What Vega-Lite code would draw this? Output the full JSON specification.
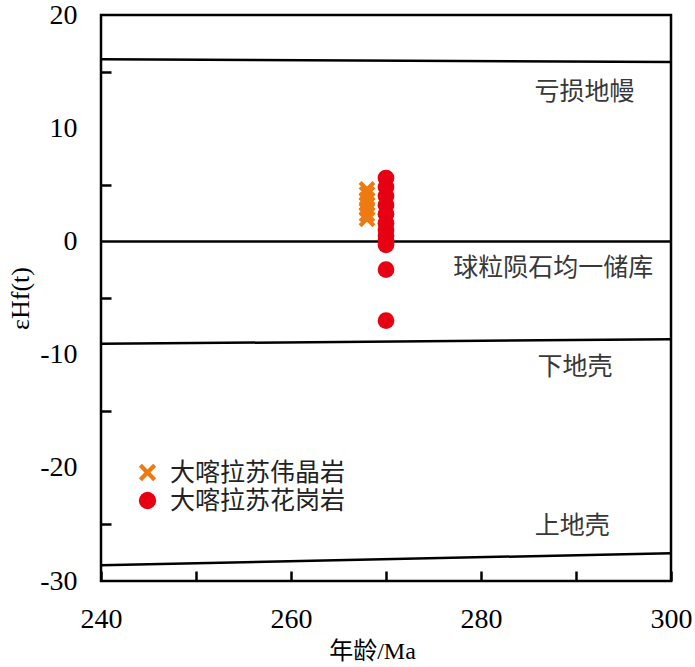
{
  "$schema": "https://vega.github.io/schema/vega-lite/v6.json",
  "width": 570,
  "height": 566,
  "autosize": {"type": "none"},
  "padding": {"left": 101, "top": 15, "right": 24, "bottom": 86},
  "background": "white",
  "config": {
    "view": {"stroke": "black", "strokeWidth": 2.5},
    "axis": {
      "domain": false,
      "grid": false,
      "labelFont": "Liberation Serif",
      "labelFontSize": 28,
      "labelColor": "black",
      "tickColor": "black",
      "tickWidth": 2.5,
      "titleFont": "Liberation Serif, Noto Sans CJK SC",
      "titleFontWeight": "normal",
      "titleColor": "black"
    }
  },
  "datasets": {
    "models": [
      {"model": "DM", "age": 240, "eHf": 16.1},
      {"model": "DM", "age": 300, "eHf": 15.85},
      {"model": "CHUR", "age": 240, "eHf": 0},
      {"model": "CHUR", "age": 300, "eHf": 0},
      {"model": "LC", "age": 240, "eHf": -9.05},
      {"model": "LC", "age": 300, "eHf": -8.65},
      {"model": "UC", "age": 240, "eHf": -28.6},
      {"model": "UC", "age": 300, "eHf": -27.55}
    ],
    "labels": [
      {"label": "亏损地幔", "age": 290.9, "eHf": 13.2},
      {"label": "球粒陨石均一储库", "age": 287.6, "eHf": -2.35},
      {"label": "下地壳", "age": 289.9, "eHf": -11.1},
      {"label": "上地壳", "age": 289.6, "eHf": -25.1}
    ],
    "points": [
      {"series": "大喀拉苏伟晶岩", "age": 268, "eHf": 4.6},
      {"series": "大喀拉苏伟晶岩", "age": 268, "eHf": 4.2},
      {"series": "大喀拉苏伟晶岩", "age": 268, "eHf": 3.7},
      {"series": "大喀拉苏伟晶岩", "age": 268, "eHf": 3.3},
      {"series": "大喀拉苏伟晶岩", "age": 268, "eHf": 2.9},
      {"series": "大喀拉苏伟晶岩", "age": 268, "eHf": 2.4},
      {"series": "大喀拉苏伟晶岩", "age": 268, "eHf": 2.0},
      {"series": "大喀拉苏花岗岩", "age": 270, "eHf": 5.6},
      {"series": "大喀拉苏花岗岩", "age": 270, "eHf": 4.8},
      {"series": "大喀拉苏花岗岩", "age": 270, "eHf": 4.0},
      {"series": "大喀拉苏花岗岩", "age": 270, "eHf": 3.2},
      {"series": "大喀拉苏花岗岩", "age": 270, "eHf": 2.4},
      {"series": "大喀拉苏花岗岩", "age": 270, "eHf": 1.6},
      {"series": "大喀拉苏花岗岩", "age": 270, "eHf": 1.0},
      {"series": "大喀拉苏花岗岩", "age": 270, "eHf": 0.5},
      {"series": "大喀拉苏花岗岩", "age": 270, "eHf": 0.1},
      {"series": "大喀拉苏花岗岩", "age": 270, "eHf": -0.3},
      {"series": "大喀拉苏花岗岩", "age": 270, "eHf": -2.5},
      {"series": "大喀拉苏花岗岩", "age": 270, "eHf": -7.0}
    ]
  },
  "encoding": {
    "x": {
      "field": "age",
      "type": "quantitative",
      "scale": {"domain": [240, 300], "nice": false, "zero": false},
      "axis": {
        "values": [240, 250, 260, 270, 280, 290, 300],
        "labelExpr": "datum.value % 20 === 0 ? '' + datum.value : ''",
        "tickSize": -10,
        "labelPadding": 34,
        "labelFlush": false,
        "title": "年龄/Ma",
        "titleFontSize": 24,
        "titlePadding": 6,
        "titleX": 271
      }
    },
    "y": {
      "field": "eHf",
      "type": "quantitative",
      "scale": {"domain": [-30, 20], "nice": false, "zero": false},
      "axis": {
        "values": [-30, -25, -20, -15, -10, -5, 0, 5, 10, 15, 20],
        "labelExpr": "datum.value % 10 === 0 ? '' + datum.value : ''",
        "tickOpacity": {"condition": {"test": "datum.value % 10 === 0", "value": 0}, "value": 1},
        "tickSize": -10,
        "labelPadding": 34,
        "labelFlush": false,
        "title": "εHf(t)",
        "titleFontSize": 26,
        "titlePadding": 6
      }
    }
  },
  "layer": [
    {
      "data": {"name": "models"},
      "mark": {"type": "line", "color": "black", "strokeWidth": 2.5},
      "encoding": {"detail": {"field": "model"}}
    },
    {
      "data": {"name": "labels"},
      "mark": {"type": "text", "font": "Noto Sans CJK SC", "fontSize": 25, "color": "#383838", "align": "center", "baseline": "middle"},
      "encoding": {"text": {"field": "label"}}
    },
    {
      "data": {"name": "points"},
      "mark": {"type": "point", "filled": true, "size": 280, "opacity": 1},
      "encoding": {
        "color": {
          "field": "series",
          "type": "nominal",
          "scale": {"domain": ["大喀拉苏伟晶岩", "大喀拉苏花岗岩"], "range": ["#ee7a12", "#e60012"]},
          "legend": {
            "orient": "none",
            "legendX": 34,
            "legendY": 445,
            "title": null,
            "labelFont": "Noto Sans CJK SC",
            "labelFontSize": 25,
            "labelLimit": 0,
            "labelColor": "#222222",
            "labelOffset": 10,
            "symbolSize": 300,
            "rowPadding": 2
          }
        },
        "shape": {
          "field": "series",
          "type": "nominal",
          "scale": {"domain": ["大喀拉苏伟晶岩", "大喀拉苏花岗岩"], "range": ["M-1,-0.65L-0.35,0L-1,0.65L-0.65,1L0,0.35L0.65,1L1,0.65L0.35,0L1,-0.65L0.65,-1L0,-0.35L-0.65,-1Z", "circle"]},
          "legend": {
            "orient": "none",
            "legendX": 34,
            "legendY": 445,
            "title": null,
            "labelFont": "Noto Sans CJK SC",
            "labelFontSize": 25,
            "labelLimit": 0,
            "labelColor": "#222222",
            "labelOffset": 10,
            "symbolSize": 300,
            "rowPadding": 2
          }
        }
      }
    }
  ]
}
